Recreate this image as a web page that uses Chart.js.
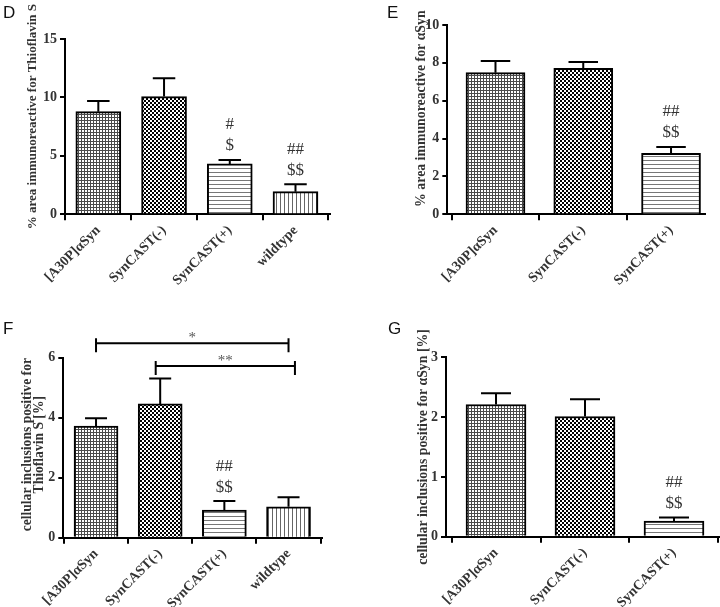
<!DOCTYPE html>
<html>
<head>
<meta charset="utf-8">
<script src="https://cdn.jsdelivr.net/npm/chart.js@4.4.1/dist/chart.umd.min.js"></script>
<style>
  body { margin: 0; background: #fff; width: 720px; height: 607px; position: relative; overflow: hidden; }
  canvas { position: absolute; }
  .letter { position: absolute; font: 17px "Liberation Sans", Arial, sans-serif; color: #111; line-height: 1; }
</style>
</head>
<body>
<canvas id="chartD" width="360" height="300" style="left:0;top:0"></canvas>
<canvas id="chartE" width="360" height="300" style="left:360px;top:0"></canvas>
<canvas id="chartF" width="360" height="307" style="left:0;top:300px"></canvas>
<canvas id="chartG" width="360" height="307" style="left:360px;top:300px"></canvas>
<div class="letter" style="left:3px;top:4px">D</div>
<div class="letter" style="left:387px;top:4px">E</div>
<div class="letter" style="left:3px;top:320px">F</div>
<div class="letter" style="left:388px;top:320px">G</div>
<script>
// groups
const groupsAll = ['[A30P]αSyn', 'SynCAST(-)', 'SynCAST(+)', 'wildtype'];
const groupsTg = ['[A30P]αSyn', 'SynCAST(-)', 'SynCAST(+)'];

// D: % area Thioflavin S
const thioArea = [8.78, 10.07, 4.31, 1.94];
const thioAreaSem = [0.92, 1.57, 0.34, 0.63];
const thioAreaTicks = [0, 5, 10, 15];
const thioAreaHash = ['', '', '#', '##'];
const thioAreaDollar = ['', '', '$', '$$'];

// E: % area alpha-Syn
const synArea = [7.48, 7.71, 3.22];
const synAreaSem = [0.62, 0.33, 0.34];
const synAreaTicks = [0, 2, 4, 6, 8, 10];
const synAreaHash = ['', '', '##'];
const synAreaDollar = ['', '', '$$'];

// F: inclusions Thioflavin S
const thioIncl = [3.72, 4.46, 0.92, 1.03];
const thioInclSem = [0.26, 0.85, 0.30, 0.32];
const thioInclTicks = [0, 2, 4, 6];
const thioInclHash = ['', '', '##', ''];
const thioInclDollar = ['', '', '$$', ''];

// G: inclusions alpha-Syn
const synIncl = [2.21, 2.01, 0.26];
const synInclSem = [0.19, 0.29, 0.06];
const synInclTicks = [0, 1, 2, 3];
const synInclHash = ['', '', '##'];
const synInclDollar = ['', '', '$$'];

const serif = '"Liberation Serif", "Times New Roman", serif';
const textColor = '#333';

// fill patterns
function makePattern(kind) {
  const c = document.createElement('canvas');
  const g = c.getContext('2d');
  if (kind === 'fine') {
    c.width = 3; c.height = 3;
    g.fillStyle = '#4a4a4a'; g.fillRect(0, 0, 3, 3);
    g.fillStyle = '#fff'; g.fillRect(1, 1, 2, 2);
  } else if (kind === 'checker') {
    c.width = 4; c.height = 4;
    g.fillStyle = '#fff'; g.fillRect(0, 0, 4, 4);
    g.fillStyle = '#000'; g.fillRect(0, 0, 2, 2); g.fillRect(2, 2, 2, 2);
  } else if (kind === 'hlines') {
    c.width = 4; c.height = 4;
    g.fillStyle = '#fff'; g.fillRect(0, 0, 4, 4);
    g.fillStyle = '#777'; g.fillRect(0, 0, 4, 1);
  } else {
    c.width = 4; c.height = 4;
    g.fillStyle = '#fff'; g.fillRect(0, 0, 4, 4);
    g.fillStyle = '#666'; g.fillRect(0, 0, 1, 4);
  }
  return g.createPattern(c, 'repeat');
}
const fills = [makePattern('fine'), makePattern('checker'), makePattern('hlines'), makePattern('vlines')];

// error bars + significance marks above each bar
const errorBars = {
  id: 'errorBars',
  afterDatasetsDraw(chart) {
    const { ctx, scales: { y } } = chart;
    const ds = chart.data.datasets[0];
    const meta = chart.getDatasetMeta(0);
    ctx.save();
    meta.data.forEach((bar, i) => {
      const top = y.getPixelForValue(ds.data[i].y + ds.sem[i]);
      const half = bar.width / 4;
      ctx.strokeStyle = '#000';
      ctx.lineWidth = 2;
      ctx.beginPath();
      ctx.moveTo(bar.x, bar.y);
      ctx.lineTo(bar.x, top);
      ctx.moveTo(bar.x - half, top);
      ctx.lineTo(bar.x + half, top);
      ctx.stroke();
      ctx.fillStyle = textColor;
      ctx.font = '17px ' + serif;
      ctx.textAlign = 'center';
      ctx.textBaseline = 'middle';
      ctx.fillText(ds.dollar[i], bar.x, top - 14);
      ctx.fillText(ds.hash[i], bar.x, top - 35);
    });
    ctx.restore();
  }
};

// brackets for pairwise comparisons
const brackets = {
  id: 'brackets',
  afterDatasetsDraw(chart, args, opts) {
    if (!opts.items) return;
    const { ctx, scales: { x, y } } = chart;
    ctx.save();
    opts.items.forEach(b => {
      const x0 = x.getPixelForValue(b.from);
      const x1 = x.getPixelForValue(b.to);
      const yy = y.getPixelForValue(b.level);
      ctx.strokeStyle = '#000';
      ctx.lineWidth = 2;
      ctx.beginPath();
      ctx.moveTo(x0, yy); ctx.lineTo(x1, yy);
      ctx.moveTo(x0, yy - 5); ctx.lineTo(x0, yy + 9);
      ctx.moveTo(x1, yy - 5); ctx.lineTo(x1, yy + 9);
      ctx.stroke();
      ctx.fillStyle = '#555';
      ctx.font = '15px ' + serif;
      ctx.textAlign = 'center';
      ctx.textBaseline = 'middle';
      ctx.fillText(b.label, (x0 + x1) / 2, yy - 5);
    });
    ctx.restore();
  }
};

// rotated y-axis title
const yTitle = {
  id: 'yTitle',
  afterDraw(chart, args, opts) {
    const { ctx, chartArea } = chart;
    ctx.save();
    ctx.translate(opts.x, (chartArea.top + chartArea.bottom) / 2 + opts.shift);
    ctx.rotate(-Math.PI / 2);
    ctx.font = 'bold ' + opts.size + 'px ' + serif;
    ctx.fillStyle = textColor;
    ctx.textAlign = 'center';
    ctx.textBaseline = 'middle';
    const n = opts.lines.length;
    opts.lines.forEach((t, k) => ctx.fillText(t, 0, (k - (n - 1) / 2) * 12));
    ctx.restore();
  }
};

function makeChart(id, cfg) {
  const labels = cfg.labels;
  new Chart(document.getElementById(id), {
    type: 'bar',
    data: {
      datasets: [{
        data: cfg.values.map((v, i) => ({ x: i, y: v })),
        sem: cfg.sem,
        hash: cfg.hash,
        dollar: cfg.dollar,
        backgroundColor: fills.slice(0, labels.length),
        borderColor: '#000',
        borderWidth: 2,
        barThickness: cfg.barWidth
      }]
    },
    options: {
      responsive: false,
      animation: false,
      events: [],
      layout: { padding: { left: 0, right: cfg.right, top: cfg.top, bottom: 0 } },
      plugins: {
        legend: { display: false },
        tooltip: { enabled: false },
        brackets: { items: cfg.brackets },
        yTitle: cfg.title
      },
      scales: {
        x: {
          type: 'linear',
          offset: false,
          min: cfg.xMin,
          max: cfg.xMax,
          afterBuildTicks: s => { s.ticks = labels.map((_, i) => ({ value: i })); },
          afterFit: s => { s.height = cfg.xHeight; },
          ticks: {
            callback: v => labels[v],
            autoSkip: false,
            minRotation: 45,
            maxRotation: 45,
            color: textColor,
            font: { family: serif, size: 14, weight: 'bold' },
            padding: 2
          },
          grid: { display: true, drawOnChartArea: false, drawTicks: true, tickLength: 6, color: '#000', lineWidth: 2 },
          border: { display: true, color: '#000', width: 2 }
        },
        y: {
          min: cfg.ticks[0],
          max: cfg.ticks[cfg.ticks.length - 1],
          afterBuildTicks: s => { s.ticks = cfg.ticks.map(v => ({ value: v })); },
          afterFit: s => { s.width = cfg.left; },
          ticks: {
            color: textColor,
            font: { family: serif, size: 14, weight: 'bold' },
            padding: 3
          },
          grid: { display: true, drawOnChartArea: false, drawTicks: true, tickLength: 5, color: '#000', lineWidth: 2 },
          border: { display: true, color: '#000', width: 2 }
        }
      }
    },
    plugins: [errorBars, brackets, yTitle]
  });
}

makeChart('chartD', {
  labels: groupsAll, values: thioArea, sem: thioAreaSem, ticks: thioAreaTicks,
  hash: thioAreaHash, dollar: thioAreaDollar,
  left: 65, right: 30, top: 39, xHeight: 85.7, xMin: -0.507, xMax: 3.525, barWidth: 45,
  title: { lines: ['% area immunoreactive for Thioflavin S'], x: 33, shift: -10, size: 13 }
});

makeChart('chartE', {
  labels: groupsTg, values: synArea, sem: synAreaSem, ticks: synAreaTicks,
  hash: synAreaHash, dollar: synAreaDollar,
  left: 87.3, right: 15, top: 25, xHeight: 85.7, xMin: -0.549, xMax: 2.387, barWidth: 59,
  title: { lines: ['% area immunoreactive for αSyn'], x: 61, shift: -11, size: 13.8 }
});

makeChart('chartF', {
  labels: groupsAll, values: thioIncl, sem: thioInclSem, ticks: thioInclTicks,
  hash: thioInclHash, dollar: thioInclDollar,
  left: 63.3, right: 38.3, top: 57.7, xHeight: 69.3, xMin: -0.51, xMax: 3.517, barWidth: 44,
  title: { lines: ['cellular inclusions positive for', 'Thioflavin S [%]'], x: 33, shift: -3, size: 13.6 },
  brackets: [
    { from: 0, to: 3, level: 6.48, label: '*' },
    { from: 0.93, to: 3.1, level: 5.72, label: '**' }
  ]
});

makeChart('chartG', {
  labels: groupsTg, values: synIncl, sem: synInclSem, ticks: synInclTicks,
  hash: synInclHash, dollar: synInclDollar,
  left: 86, right: 0, top: 57.3, xHeight: 70.3, xMin: -0.562, xMax: 2.517, barWidth: 60,
  title: { lines: ['cellular inclusions positive for αSyn [%]'], x: 63, shift: 0, size: 13.8 }
});
</script>
</body>
</html>
